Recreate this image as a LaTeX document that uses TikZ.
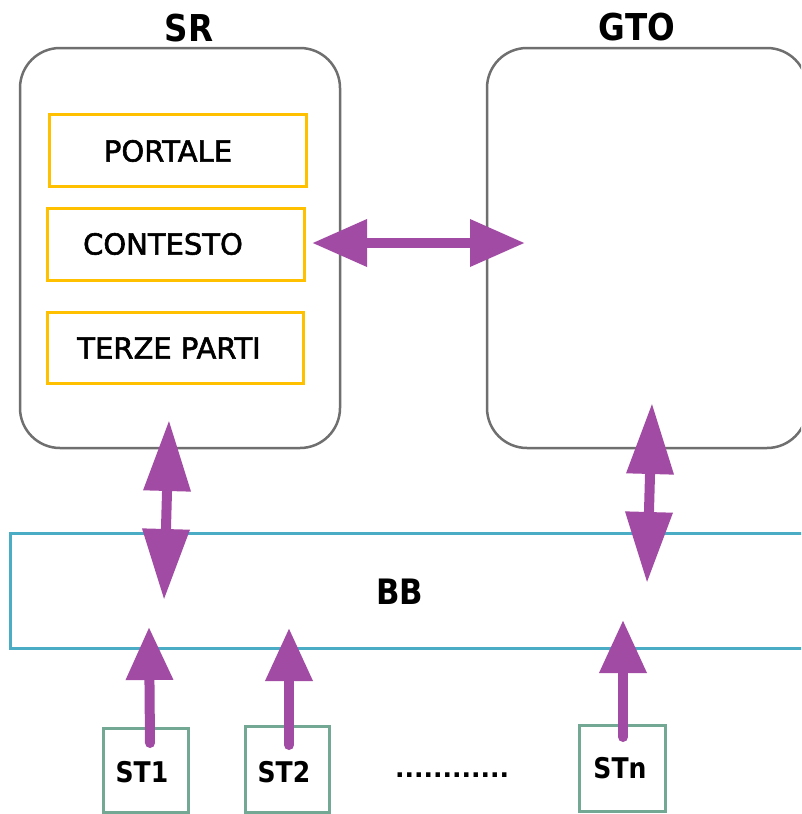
\documentclass[tikz,border=0pt]{standalone}
\usepackage{fontspec}
\usetikzlibrary{arrows.meta}
\setmainfont{DejaVu Sans}
\newfontfamily\titlefont[FakeStretch=0.88]{DejaVu Sans}
\newfontfamily\innerfont[FakeBold=2]{DejaVu Sans}
\definecolor{boxgray}{HTML}{6F6F6F}
\definecolor{ygold}{HTML}{FFC000}
\definecolor{stgreen}{HTML}{72A894}
\definecolor{bbcyan}{HTML}{4BACC6}
\definecolor{purp}{HTML}{A24BA4}
\begin{document}
\begin{tikzpicture}[x=1pt,y=-1pt,
  grayrnd/.style={draw=boxgray,line width=2.5pt,rounded corners=40pt,inner sep=0pt},
  ybox/.style={draw=ygold,line width=3pt,inner sep=0pt},
  gbox/.style={draw=stgreen,line width=3pt,inner sep=0pt},
  bbbox/.style={draw=bbcyan,line width=3pt,inner sep=0pt},
  conn/.style={draw=purp,line width=10pt},
  bigtitle/.style={inner sep=0pt,font=\titlefont\bfseries\fontsize{37}{40}\selectfont},
  innerlbl/.style={inner sep=0pt,font=\innerfont\fontsize{29}{32}\selectfont},
  stlbl/.style={inner sep=0pt,font=\titlefont\bfseries\fontsize{28.5}{30}\selectfont},
  dblhead/.style={{Triangle[length=#1,width=45pt]}-{Triangle[length=#1,width=45pt]}},
  uphead/.style={line cap=round,-{Triangle[length=53pt,width=45pt]}}
]
\useasboundingbox (0,0) rectangle (801,814);
\fill[white] (0,0) rectangle (801,814);
\clip (0,0) rectangle (801,814);

% main boxes
\node[grayrnd,minimum width=320pt,minimum height=400pt] (SR) at (180,248) {};
\node[grayrnd,minimum width=320pt,minimum height=400pt] (GTO) at (647,248) {};
\node[bbbox,minimum width=820pt,minimum height=115pt] (BB) at (420,590.5) {};

% inner boxes
\node[ybox,minimum width=257pt,minimum height=72pt] (POR) at (177.5,150) {};
\node[ybox,minimum width=257pt,minimum height=72pt] (CON) at (175.5,244) {};
\node[ybox,minimum width=256pt,minimum height=71pt] (TER) at (175,347.5) {};

% station boxes
\node[gbox,minimum width=85pt,minimum height=84pt] (ST1) at (145.5,770) {};
\node[gbox,minimum width=84pt,minimum height=86pt] (ST2) at (287,769) {};
\node[gbox,minimum width=86pt,minimum height=86pt] (STn) at (622,768) {};

% labels
\node[bigtitle] (SRl) at (189,28) {SR};
\node[bigtitle] (GTOl) at (637,27) {GTO};
\node[bigtitle,font=\titlefont\bfseries\fontsize{35}{38}\selectfont] (BBl) at (400,592) {BB};
\node[innerlbl] (PORl) at (168,151) {PORTALE};
\node[innerlbl] (CONl) at (163,244) {CONTESTO};
\node[innerlbl] (TERl) at (169,348) {TERZE PARTI};
\node[stlbl] (ST1l) at (142,772) {ST1};
\node[stlbl] (ST2l) at (284,772) {ST2};
\node[stlbl] (STnl) at (620,768) {STn};
\node[inner sep=0pt,font=\bfseries\fontsize{25}{27}\selectfont] (dots) at (452,775) {............};

% connector end points
\coordinate (h1) at (312,243);
\coordinate (h2) at (525,243);
\coordinate (v1t) at (169,420);
\coordinate (v1b) at (164,600);
\coordinate (v2t) at (652,403);
\coordinate (v2b) at (647,583);
\coordinate (s1b) at (150,743);
\coordinate (s1t) at (149,627);
\coordinate (s2b) at (289,745);
\coordinate (s2t) at (289,628);
\coordinate (snb) at (623,737);
\coordinate (snt) at (623,620);

% connectors
\draw[conn,dblhead=55pt] (h1) -- (h2);
\draw[conn,dblhead=71pt] (v1t) -- (v1b);
\draw[conn,dblhead=71pt] (v2t) -- (v2b);
\draw[conn,uphead] (s1b) -- (s1t);
\draw[conn,uphead] (s2b) -- (s2t);
\draw[conn,uphead] (snb) -- (snt);
\end{tikzpicture}
\end{document}
